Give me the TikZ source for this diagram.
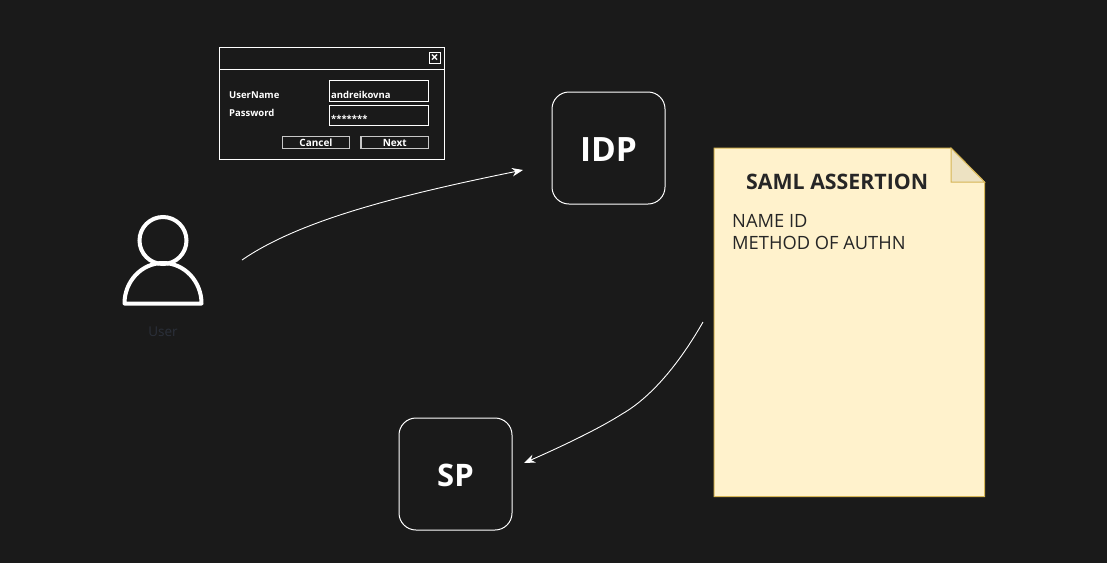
\documentclass[tikz,border=0pt]{standalone}
\usepackage{fontspec}
\setmainfont{Open Sans}
\usetikzlibrary{arrows.meta}
\definecolor{bg}{HTML}{1A1A1A}
\definecolor{notefill}{HTML}{FFF2CC}
\definecolor{noteline}{HTML}{D6B656}
\definecolor{notefold}{HTML}{EDE2C2}
\definecolor{usergray}{HTML}{2B303A}
\definecolor{btngray}{HTML}{C8C8C8}
\tikzset{
    box/.style={draw=white, line width=1pt, rounded corners=17pt, minimum width=113pt, minimum height=112pt, inner sep=0pt, text=white, font=\fontsize{33.5}{36}\selectfont\bfseries},
    field/.style={draw=white, line width=1pt, minimum width=99.5pt, minimum height=20.5pt, inner sep=0pt},
    btn/.style={draw=btngray, line width=1.2pt, minimum width=67.5pt, minimum height=11.5pt, inner sep=0pt, text=white, font=\fontsize{10}{11}\selectfont\bfseries},
    dlgtext/.style={text=white, inner sep=0pt, anchor=west, font=\fontsize{9.5}{12}\selectfont\bfseries},
    notetext/.style={text=black!85, inner sep=0pt, anchor=west, font=\fontsize{18.3}{22}\selectfont},
    arrow/.style={draw=white, line width=0.9pt, -{Stealth[length=11pt,width=8.5pt]}},
}
\begin{document}
\begin{tikzpicture}[x=1pt, y=-1pt]
    \fill[bg] (0, 0) rectangle (1107, 563);
    \useasboundingbox (0, 0) rectangle (1107, 563);

    % user
    \draw[white, line width=4pt] (163, 240.5) circle (23.5);
    \draw[white, line width=4pt, line join=round] (124.5, 303.5) arc[start angle=180, end angle=0, x radius=38.5, y radius=-40.5] -- cycle;
    \node at (163, 332) (user) [text=usergray, font=\fontsize{13.5}{16}\selectfont] {User};

    % login dialog
    \node at (331.5, 103) (dialog) [draw=white, line width=1pt, minimum width=225pt, minimum height=112pt] {};
    \draw[white, line width=1pt] (219, 69) -- (444, 69);
    \node at (434.5, 58) (close) [draw=white, line width=1pt, minimum width=11pt, minimum height=11pt, inner sep=0pt, text=white, font=\fontsize{14}{14}\selectfont\bfseries] {×};
    \node at (229, 95)   (username) [dlgtext] {UserName};
    \node at (229, 113)  (password) [dlgtext] {Password};
    \node at (378.8, 91)   (namefield) [field] {};
    \node at (378.8, 115.5) (passfield) [field] {};
    \node at (331, 95)   (nametext) [dlgtext] {andreikovna};
    \node at (331, 119)  (passtext) [dlgtext] {*******};
    \node at (316, 142.5) (cancel) [btn] {Cancel};
    \node at (394.8, 142.5) (next) [btn] {Next};

    % servers
    \node at (608.5, 148) (idp) [box, text height=27pt, text depth=0pt] {IDP};
    \node at (455.5, 474) (sp) [box, font=\fontsize{31}{34}\selectfont\bfseries, text height=24pt, text depth=0pt] {SP};

    % note
    \draw[fill=notefill, draw=noteline, line width=1pt] (714, 148) -- (951, 148) -- (984.5, 182) -- (984.5, 496.5) -- (714, 496.5) -- cycle;
    \draw[fill=notefold, draw=noteline, line width=1pt] (951, 148) -- (951, 182) -- (984.5, 182) -- cycle;
    \node at (746, 182)  (saml) [notetext, font=\fontsize{21.3}{24}\selectfont\bfseries] {SAML ASSERTION};
    \node at (732, 221)  (nameid) [notetext] {NAME ID};
    \node at (732, 243)  (method) [notetext] {METHOD OF AUTHN};

    % connectors
    \coordinate (userout) at (242, 260);
    \coordinate (idpin) at (523, 170);
    \coordinate (noteout) at (703, 322);
    \coordinate (bend) at (622, 414);
    \coordinate (spin) at (524, 463);
    \draw[arrow] (userout) .. controls (300, 220) and (400, 195) .. (idpin);
    \draw[arrow] (noteout) .. controls (683, 357) and (655, 395) .. (bend) .. controls (600, 428) and (565, 445) .. (spin);
\end{tikzpicture}
\end{document}
